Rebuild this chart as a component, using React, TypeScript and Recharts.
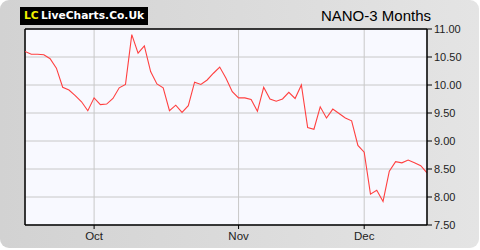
import React from "react";
import { LineChart, Line, XAxis, YAxis, CartesianGrid, ReferenceLine } from "recharts";

const prices: number[] = [
  10.6, 10.55, 10.55, 10.54, 10.47, 10.3, 9.96, 9.91, 9.81, 9.7,
  9.54, 9.77, 9.65, 9.66, 9.76, 9.95, 10.01, 10.9, 10.57, 10.7,
  10.24, 10.02, 9.95, 9.54, 9.64, 9.51, 9.63, 10.05, 10.01, 10.09,
  10.21, 10.32, 10.12, 9.88, 9.77, 9.77, 9.74, 9.53, 9.96, 9.75,
  9.71, 9.75, 9.87, 9.76, 10.0, 9.24, 9.21, 9.61, 9.41, 9.57,
  9.49, 9.41, 9.36, 8.92, 8.8, 8.05, 8.12, 7.92, 8.46, 8.63,
  8.61, 8.66, 8.61, 8.56, 8.43,
];

const monthTickIndex: number[] = [11, 34, 54];
const monthTickLabels: string[] = ["Oct", "Nov", "Dec"];
const priceTicks: number[] = [7.5, 8, 8.5, 9, 9.5, 10, 10.5, 11];
const titleText = "NANO-3 Months";

const data = prices.map((p, i) => ({ i, p }));

const FONT = "'Liberation Sans', Arial, sans-serif";

export default function App() {
  return (
    <div style={{ position: "absolute", left: 0, top: 0, width: 480, height: 250, background: "#fff" }}>
      <div
        style={{
          position: "absolute",
          left: 0,
          top: 0,
          width: 479,
          height: 248,
          borderRadius: 9,
          background: "linear-gradient(to right, #d2d2d2, #e4e4e4)",
        }}
      />
      <div
        style={{
          position: "absolute",
          left: 20,
          top: 7,
          width: 128,
          height: 18,
          background: "#000",
          fontFamily: "'DejaVu Sans', Verdana, sans-serif",
          fontWeight: "bold",
          fontSize: 10.7,
          lineHeight: "18px",
          whiteSpace: "nowrap",
        }}
      >
        <span style={{ position: "absolute", left: 4, color: "#f2f200" }}>LC</span>
        <span style={{ position: "absolute", left: 21, color: "#fff" }}>LiveCharts.Co.Uk</span>
      </div>
      <div
        style={{
          position: "absolute",
          right: 49,
          top: 8,
          fontFamily: FONT,
          fontSize: 15,
          lineHeight: "15px",
          color: "#000",
          whiteSpace: "nowrap",
        }}
      >
        {titleText}
      </div>
      <div style={{ position: "absolute", left: 0, top: 0 }}>
        <LineChart width={480} height={250} data={data} margin={{ top: 29, right: 0, bottom: 0, left: 25 }}>
          <CartesianGrid fill="#f8f9ff" stroke="#c8c8c8" strokeWidth={1} />
          <XAxis
            type="number"
            dataKey="i"
            domain={[0, prices.length - 1]}
            ticks={monthTickIndex}
            tickFormatter={(v: number) => monthTickLabels[monthTickIndex.indexOf(v)] ?? ""}
            height={25}
            axisLine={{ stroke: "#000", strokeWidth: 1.5 }}
            tickLine={{ stroke: "#000" }}
            tickSize={4}
            tickMargin={3}
            tick={{ fill: "#222", fontSize: 11.5, fontFamily: FONT }}
            allowDataOverflow
          />
          <YAxis
            orientation="right"
            type="number"
            domain={[7.5, 11]}
            ticks={priceTicks}
            tickFormatter={(v: number) => v.toFixed(2)}
            width={53}
            axisLine={{ stroke: "#000", strokeWidth: 1.5 }}
            tickLine={{ stroke: "#000" }}
            tickSize={5}
            tickMargin={2}
            tick={{ fill: "#222", fontSize: 11, fontFamily: FONT }}
            allowDataOverflow
          />
          <ReferenceLine y={11} stroke="#000" strokeWidth={1.5} />
          <ReferenceLine x={0} stroke="#000" strokeWidth={1.5} />
          <Line
            type="linear"
            dataKey="p"
            stroke="#ff4040"
            strokeWidth={1.1}
            dot={false}
            isAnimationActive={false}
          />
        </LineChart>
      </div>
    </div>
  );
}
